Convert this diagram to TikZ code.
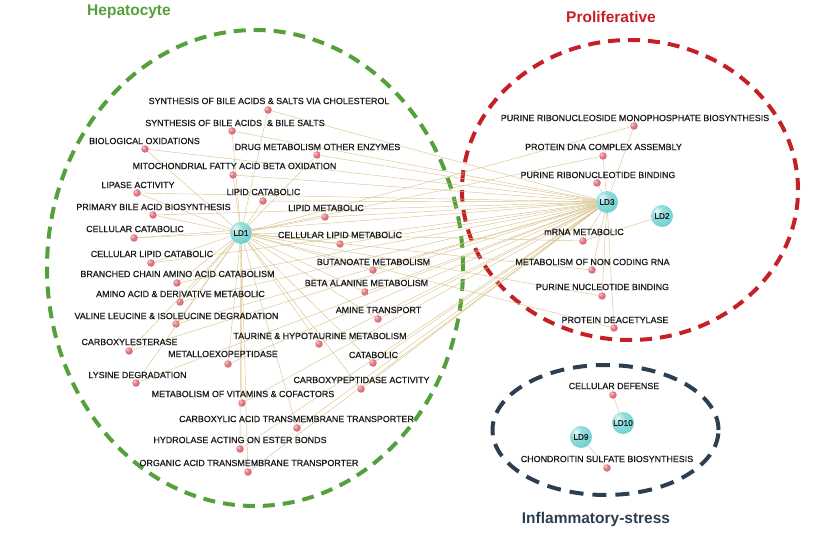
\documentclass[tikz,border=0pt]{standalone}
\usepackage{fontspec}
\setmainfont{Liberation Sans}
\newfontfamily\lblfont[FakeBold=0.6]{Liberation Sans}
\definecolor{hepg}{RGB}{84,160,58}
\definecolor{prored}{RGB}{196,32,38}
\definecolor{infdark}{RGB}{44,62,80}
\definecolor{edgecol}{RGB}{218,196,142}
\definecolor{dotred}{RGB}{214,84,96}
\definecolor{ldcyan}{RGB}{100,206,206}
\pgfdeclareradialshading{cyanball}{\pgfpoint{-12bp}{12bp}}{color(0bp)=(white!85!ldcyan); color(14bp)=(ldcyan!70!white); color(40bp)=(ldcyan); color(62bp)=(ldcyan!78!black); color(100bp)=(ldcyan!78!black)}
\pgfdeclareradialshading{redball}{\pgfpoint{-12bp}{12bp}}{color(0bp)=(white!75!dotred); color(14bp)=(dotred!75!white); color(40bp)=(dotred); color(62bp)=(dotred!75!black); color(100bp)=(dotred!75!black)}
\tikzset{
  pdot/.style={circle, inner sep=0pt, minimum size=7.5pt, shading=redball},
  ldnode/.style={circle, inner sep=0pt, minimum size=22pt, shading=cyanball, font=\lblfont\fontsize{8.2}{9}\selectfont, text=black!90},
  plabel/.style={font=\lblfont\fontsize{8.9}{10}\selectfont, text=black!90, inner sep=0pt},
  edge/.style={draw=edgecol, line width=0.45pt},
  grp/.style={line width=4pt, dash pattern=on 12pt off 8pt},
  ttl/.style={font=\fontsize{15.5}{17}\selectfont\bfseries, inner sep=0pt}
}
\begin{document}
\begin{tikzpicture}[x=1pt,y=-1pt]
\useasboundingbox (0,0) rectangle (821,534);
% group ellipses
\draw[grp, draw=hepg] (255,268) ellipse [x radius=208pt, y radius=238pt];
\draw[grp, draw=prored] (630,190) ellipse [x radius=168pt, y radius=150pt];
\draw[grp, draw=infdark, dash pattern=on 14pt off 9pt] (605.5,430) ellipse [x radius=113pt, y radius=65pt];
% titles
\node[ttl, text=hepg] (t1) at (129,12) {Hepatocyte};
\node[ttl, text=prored] (t2) at (611,17) {Proliferative};
\node[ttl, text=infdark] (t3) at (596,519) {Inflammatory-stress};
% hubs
\node[ldnode] (ld1) at (241,233) {LD1};
\node[ldnode] (ld3) at (607,202) {LD3};
\node[ldnode] (ld2) at (662,216) {LD2};
\node[ldnode] (ld10) at (623,423) {LD10};
\node[ldnode] (ld9) at (581,437) {LD9};
% hepatocyte pathways
\node[pdot] (p1) at (268,110) {};
\node[pdot] (p2) at (232,131) {};
\node[pdot] (p3) at (145,149) {};
\node[pdot] (p4) at (317,155) {};
\node[pdot] (p5) at (233,175) {};
\node[pdot] (p6) at (137,193) {};
\node[pdot] (p7) at (263,201) {};
\node[pdot] (p8) at (153,215) {};
\node[pdot] (p9) at (325,217) {};
\node[pdot] (p11) at (134,238) {};
\node[pdot] (p12) at (340,244) {};
\node[pdot] (p13) at (151,263) {};
\node[pdot] (p14) at (373,270) {};
\node[pdot] (p15) at (177,283) {};
\node[pdot] (p16) at (365,292) {};
\node[pdot] (p17) at (180,302) {};
\node[pdot] (p18) at (378,319) {};
\node[pdot] (p19) at (176,324) {};
\node[pdot] (p20) at (319,344) {};
\node[pdot] (p21) at (129,351) {};
\node[pdot] (p22) at (228,364) {};
\node[pdot] (p23) at (373,363) {};
\node[pdot] (p24) at (136,383) {};
\node[pdot] (p25) at (361,389) {};
\node[pdot] (p26) at (242,403) {};
\node[pdot] (p27) at (297,428) {};
\node[pdot] (p28) at (240,449) {};
\node[pdot] (p29) at (248,472) {};
% proliferative pathways
\node[pdot] (p30) at (634,126) {};
\node[pdot] (p31) at (603,156) {};
\node[pdot] (p32) at (597,183) {};
\node[pdot] (p35) at (583,241) {};
\node[pdot] (p36) at (592,270) {};
\node[pdot] (p37) at (602,296) {};
\node[pdot] (p38) at (614,328) {};
% inflammatory pathways
\node[pdot] (p39) at (613,395) {};
\node[pdot] (p42) at (607,468) {};
% edges
\foreach \n in {p1,p2,p3,p4,p5,p6,p7,p8,p9,p11,p12,p13,p14,p15,p16,p17,p18,p19,p20,p21,p22,p23,p24,p25,p26,p27,p28,p29,p30,p31,p35,p36,p37,p38}
  \draw[edge] (ld1) -- (\n);
\foreach \n in {p1,p2,p3,p4,p5,p6,p7,p8,p9,p11,p12,p13,p14,p15,p16,p17,p18,p19,p20,p21,p22,p23,p24,p25,p26,p27,p28,p29,p30,p31,p32,p35,p36,p37,p38}
  \draw[edge] (ld3) -- (\n);
\draw[edge] (ld2) -- (p35);
\draw[edge] (ld10) -- (p39);
\draw[edge] (ld9) -- (p42);
% labels
\node[plabel] (l1) at (269,101) {SYNTHESIS OF BILE ACIDS \& SALTS VIA CHOLESTEROL};
\node[plabel] (l2) at (235,123) {SYNTHESIS OF BILE ACIDS\ \ \& BILE SALTS};
\node[plabel] (l3) at (144.5,141) {BIOLOGICAL OXIDATIONS};
\node[plabel] (l4) at (317.5,147) {DRUG METABOLISM OTHER ENZYMES};
\node[plabel] (l5) at (234.5,166) {MITOCHONDRIAL FATTY ACID BETA OXIDATION};
\node[plabel] (l6) at (138,185) {LIPASE ACTIVITY};
\node[plabel] (l7) at (263.5,192) {LIPID CATABOLIC};
\node[plabel] (l8) at (153.5,207) {PRIMARY BILE ACID BIOSYNTHESIS};
\node[plabel] (l9) at (326,208) {LIPID METABOLIC};
\node[plabel] (l11) at (135,229) {CELLULAR CATABOLIC};
\node[plabel] (l12) at (340,235) {CELLULAR LIPID METABOLIC};
\node[plabel] (l13) at (152,254) {CELLULAR LIPID CATABOLIC};
\node[plabel] (l14) at (373.5,262) {BUTANOATE METABOLISM};
\node[plabel] (l15) at (177.5,274) {BRANCHED CHAIN AMINO ACID CATABOLISM};
\node[plabel] (l16) at (366.5,283) {BETA ALANINE METABOLISM};
\node[plabel] (l17) at (180.5,294) {AMINO ACID \& DERIVATIVE METABOLIC};
\node[plabel] (l18) at (378.5,310) {AMINE TRANSPORT};
\node[plabel] (l19) at (176.5,316) {VALINE LEUCINE \& ISOLEUCINE DEGRADATION};
\node[plabel] (l20) at (320,336) {TAURINE \& HYPOTAURINE METABOLISM};
\node[plabel] (l21) at (129.5,342) {CARBOXYLESTERASE};
\node[plabel] (l22) at (223,354) {METALLOEXOPEPTIDASE};
\node[plabel] (l23) at (373.5,355) {CATABOLIC};
\node[plabel] (l24) at (137.5,375) {LYSINE DEGRADATION};
\node[plabel] (l25) at (361.5,380) {CARBOXYPEPTIDASE ACTIVITY};
\node[plabel] (l26) at (243,394) {METABOLISM OF VITAMINS \& COFACTORS};
\node[plabel] (l27) at (296.5,419) {CARBOXYLIC ACID TRANSMEMBRANE TRANSPORTER};
\node[plabel] (l28) at (240,440) {HYDROLASE ACTING ON ESTER BONDS};
\node[plabel] (l29) at (249,463) {ORGANIC ACID TRANSMEMBRANE TRANSPORTER};
\node[plabel] (l30) at (635,118) {PURINE RIBONUCLEOSIDE MONOPHOSPHATE BIOSYNTHESIS};
\node[plabel] (l31) at (603.5,147) {PROTEIN DNA COMPLEX ASSEMBLY};
\node[plabel] (l32) at (598,175) {PURINE RIBONUCLEOTIDE BINDING};
\node[plabel] (l35) at (584,232) {mRNA METABOLIC};
\node[plabel] (l36) at (592.5,262) {METABOLISM OF NON CODING RNA};
\node[plabel] (l37) at (602.5,287) {PURINE NUCLEOTIDE BINDING};
\node[plabel] (l38) at (615,320) {PROTEIN DEACETYLASE};
\node[plabel] (l39) at (614,386) {CELLULAR DEFENSE};
\node[plabel] (l42) at (607,459) {CHONDROITIN SULFATE BIOSYNTHESIS};
\end{tikzpicture}
\end{document}
